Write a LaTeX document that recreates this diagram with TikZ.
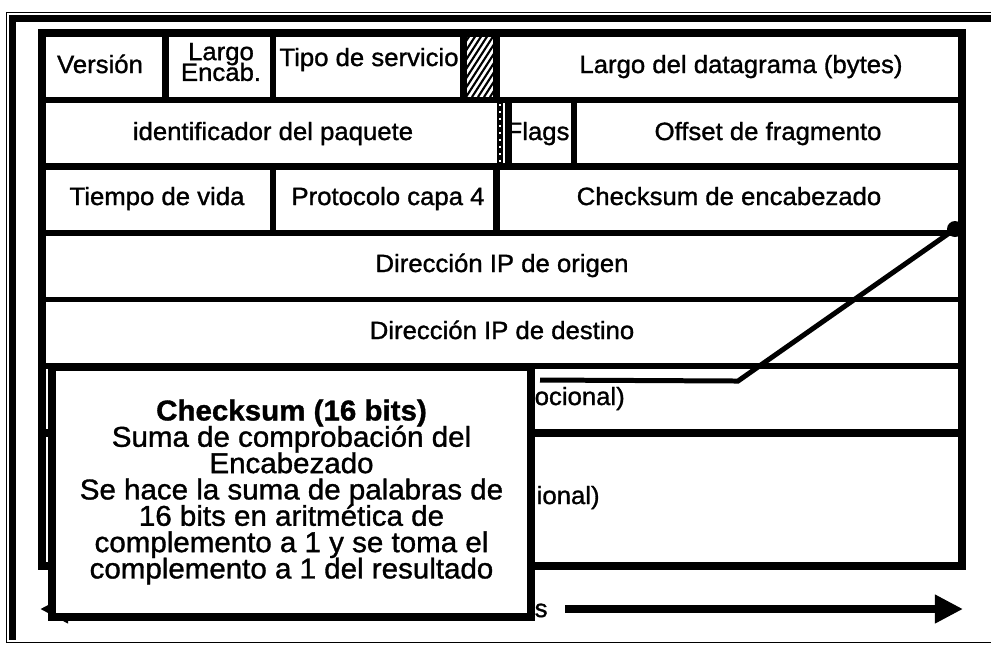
\documentclass[tikz,border=0pt]{standalone}
\usepackage{fontspec}
\setmainfont{Liberation Sans}[FakeBold=1.2, FakeStretch=1.03]
\usetikzlibrary{arrows.meta}
\newcommand{\tightlines}{\lineskiplimit=-20pt\lineskip=0pt\relax}
\begin{document}
\begin{tikzpicture}[x=0.01cm,y=-0.01cm,
  cell/.style={font=\fontsize{7.1}{8}\selectfont, inner sep=0pt, anchor=base},
  sepline/.style={line width=1.85pt},
  dimarrow/.style={line width=2.28pt, -{Triangle[length=8pt,width=7.7pt]}},
  pointer/.style={line width=1.42pt},
  dotmark/.style={circle, fill=black, inner sep=0pt, minimum size=0.16cm},
  infobox/.style={draw, fill=white, line width=2.28pt, minimum width=4.78cm, minimum height=2.5cm,
    align=center, inner sep=0pt, font={\fontsize{8.15}{7.49}\selectfont\tightlines}}]
\useasboundingbox (0,0) rectangle (991,644);
% outer frame
\draw[line width=0.43pt] (991,12.5) -- (6.5,12.5) -- (6.5,642.5) -- (991,642.5);
\draw[line width=1.99pt] (991,18.5) -- (12.5,18.5) -- (12.5,640);
% texts of the cells
\node[cell] (ver) at (100,73) {Versión};
\node[cell, anchor=center, align=center, font={\fontsize{7.1}{5.9}\selectfont\tightlines}] (hl) at (221,62) {Largo\\Encab.};
\node[cell] (tipo) at (369,66) {Tipo de servicio};
\node[cell] (largo) at (741,73) {Largo del datagrama (bytes)};
\node[cell] (ident) at (273,140) {identificador del paquete};
\node[cell] (flags) at (538,140) {Flags};
\node[cell] (offset) at (768,140) {Offset de fragmento};
\node[cell] (ttl) at (157,205) {Tiempo de vida};
\node[cell] (proto) at (388,205) {Protocolo capa 4};
\node[cell] (chk) at (729,205) {Checksum de encabezado};
\node[cell] (src) at (502,272) {Dirección IP de origen};
\node[cell] (dst) at (502,339) {Dirección IP de destino};
\node[cell, anchor=base west] (opt) at (534,405) {ocional)};
\node[cell, anchor=base west] (dat) at (536,504) {ional)};
\node[cell, anchor=base west] (bits) at (534,617) {s};
% table
\draw[line width=2.28pt] (42,33) rectangle (961.5,566);
\foreach \y/\w in {100/1.71, 166.5/1.99, 233/1.71, 299.5/1.5, 366/1.71, 432.5/2.28}
  \draw[line width=\w pt] (42,\y) -- (961.5,\y);
\foreach \x in {165.5, 273, 463.5, 496.5} \draw[sepline] (\x,33) -- (\x,100);
\foreach \x in {273, 496.5} \draw[sepline] (\x,166.5) -- (\x,233);
\draw[sepline] (508.5,100) -- (508.5,166.5);
\draw[sepline] (574,100) -- (574,166.5);
\draw[line width=1.71pt] (500,100) -- (500,166.5);
\draw[white, line width=0.5pt, dash pattern=on 0.6pt off 1.4pt] (500,104) -- (500,162);
% hatched field
\begin{scope}
  \clip (467,37) rectangle (493,97);
  \foreach \i in {418,424,...,500} \draw[line width=0.6pt] (\i,97) -- ++(40,-62);
\end{scope}
% pointer to the checksum field
\coordinate (p0) at (540,380);
\coordinate (p1) at (738,381);
\node[dotmark] (dot) at (955,229) {};
\draw[pointer] (p0) -- (p1) -- (dot);
% 32 bits dimension
\coordinate (aLs) at (300,609);
\coordinate (aL) at (40,609);
\coordinate (aR0) at (565,609);
\coordinate (aR) at (963,609);
\draw[dimarrow] (aLs) -- (aL);
\draw[dimarrow] (aR0) -- (aR);
% overlay box
\node[infobox] (note) at (291.5,492) {\textbf{Checksum (16 bits)}\\Suma de comprobación del\\Encabezado\\Se hace la suma de palabras de\\16 bits en aritmética de\\complemento a 1 y se toma el\\complemento a 1 del resultado};
\end{tikzpicture}
\end{document}
